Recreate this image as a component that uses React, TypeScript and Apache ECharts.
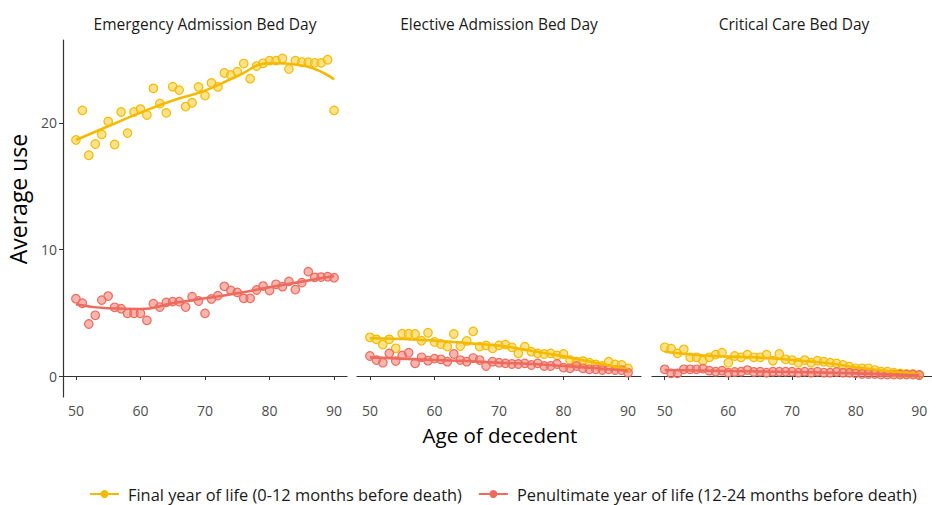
import React, { useEffect, useRef } from "react";
import * as echarts from "echarts";

const panelTitles = ["Emergency Admission Bed Day", "Elective Admission Bed Day", "Critical Care Bed Day"];
const seriesNames = [
  "Final year of life (0-12 months before death)",
  "Penultimate year of life (12-24 months before death)",
];
const ages = [50, 51, 52, 53, 54, 55, 56, 57, 58, 59, 60, 61, 62, 63, 64, 65, 66, 67, 68, 69, 70,
  71, 72, 73, 74, 75, 76, 77, 78, 79, 80, 81, 82, 83, 84, 85, 86, 87, 88, 89, 90];
const xTicks = [50, 60, 70, 80, 90];
const yTicks = [0, 10, 20];

// Emergency admission bed days
const emergFinal = [18.66, 21.0, 17.45, 18.34, 19.1, 20.13, 18.3, 20.87, 19.2, 20.87, 21.1, 20.63, 22.74, 21.53,
  20.8, 22.87, 22.6, 21.3, 21.6, 22.85, 22.16, 23.16, 22.85, 23.95, 23.8, 24.06, 24.7, 23.5, 24.5, 24.72, 24.93,
  24.93, 25.1, 24.27, 24.93, 24.8, 24.8, 24.75, 24.75, 25.0, 21.0];
const emergPenult = [6.11, 5.75, 4.11, 4.8, 6.0, 6.32, 5.43, 5.32, 4.95, 4.95, 4.95, 4.4, 5.72, 5.45, 5.82, 5.88,
  5.88, 5.45, 6.27, 5.93, 4.95, 6.09, 6.35, 7.09, 6.77, 6.61, 6.14, 6.14, 6.8, 7.11, 6.75, 7.25, 7.06, 7.48, 6.83,
  7.38, 8.25, 7.8, 7.82, 7.85, 7.77];
// Elective admission bed days
const electFinal = [3.06, 2.9, 2.48, 2.9, 2.19, 3.34, 3.34, 3.32, 2.79, 3.42, 2.69, 2.53, 2.32, 3.32, 2.37, 2.77,
  3.53, 2.32, 2.42, 2.19, 2.42, 2.48, 2.27, 1.79, 2.32, 1.92, 1.79, 1.74, 1.79, 1.63, 1.74, 1.26, 1.13, 1.18, 1.05,
  0.92, 0.79, 1.13, 0.92, 0.87, 0.6];
const electPenult = [1.58, 1.26, 1.05, 1.79, 1.18, 1.63, 1.84, 1.0, 1.48, 1.21, 1.37, 1.32, 1.13, 1.74, 1.26, 1.13,
  1.42, 1.26, 0.79, 1.13, 1.05, 1.0, 0.95, 0.95, 1.0, 0.87, 1.0, 0.79, 0.79, 0.95, 0.66, 0.61, 0.79, 0.61, 0.53,
  0.53, 0.47, 0.53, 0.47, 0.47, 0.26];
// Critical care bed days
const critFinal = [2.27, 2.16, 1.79, 2.11, 1.48, 1.48, 1.21, 1.48, 1.69, 1.84, 1.05, 1.58, 1.48, 1.69, 1.48, 1.48,
  1.69, 1.21, 1.74, 1.32, 1.26, 1.05, 1.26, 1.05, 1.21, 1.13, 1.05, 1.0, 0.87, 0.74, 0.61, 0.61, 0.61, 0.47, 0.34,
  0.34, 0.26, 0.21, 0.16, 0.16, 0.08];
const critPenult = [0.53, 0.21, 0.21, 0.53, 0.53, 0.53, 0.58, 0.42, 0.34, 0.42, 0.26, 0.32, 0.34, 0.47, 0.32, 0.34,
  0.26, 0.34, 0.34, 0.34, 0.34, 0.26, 0.34, 0.26, 0.34, 0.26, 0.26, 0.32, 0.26, 0.26, 0.21, 0.16, 0.16, 0.16, 0.11,
  0.11, 0.11, 0.11, 0.11, 0.11, 0.08];

// Smoothed trend lines
const smoothAges = [50, 55, 60, 65, 70, 75, 80, 85, 90];
const emergFinalFit = [18.66, 19.74, 20.82, 21.77, 22.56, 23.7, 24.72, 24.55, 23.45];
const emergPenultFit = [5.67, 5.35, 5.3, 5.75, 6.14, 6.54, 7.01, 7.46, 7.9];
const electFinalFit = [2.98, 2.93, 2.8, 2.6, 2.4, 2.0, 1.55, 1.05, 0.53];
const electPenultFit = [1.47, 1.37, 1.26, 1.18, 1.05, 0.95, 0.79, 0.61, 0.42];
const critFinalFit = [1.92, 1.66, 1.53, 1.45, 1.26, 1.05, 0.69, 0.4, 0.13];
const critPenultFit = [0.47, 0.44, 0.4, 0.36, 0.32, 0.27, 0.21, 0.13, 0.05];

const FONT = "Open Sans";
const YEL = "#F5BA00";
const RED = "#EE6A5C";

export default function App() {
  const ref = useRef<HTMLDivElement>(null);
  useEffect(() => {
    if (!ref.current) return;
    const chart = echarts.init(ref.current, undefined, { renderer: "svg" });
    const lefts = [63, 357, 652];
    const pts = [
      [emergFinal, emergPenult],
      [electFinal, electPenult],
      [critFinal, critPenult],
    ];
    const fits = [
      [emergFinalFit, emergPenultFit],
      [electFinalFit, electPenultFit],
      [critFinalFit, critPenultFit],
    ];
    const grids = lefts.map((l) => ({ left: l, top: 40, width: 284, height: 357 }));
    const xAxes = lefts.map((_, i) => ({
      type: "value",
      gridIndex: i,
      min: 48,
      max: 92,
      splitLine: { show: false },
      axisLine: { show: true, lineStyle: { color: "#333333", width: 1.2 } },
      axisTick: { show: true, length: 4, customValues: xTicks, lineStyle: { color: "#333333" } },
      axisLabel: { customValues: xTicks, color: "#4D4D4D", fontSize: 14, fontFamily: FONT, margin: 6 },
    }));
    const yAxes = lefts.map((_, i) => ({
      type: "value",
      gridIndex: i,
      min: -1.66,
      max: 26.56,
      splitLine: { show: false },
      axisLine: { show: i === 0, onZero: false, lineStyle: { color: "#333333", width: 1.2 } },
      axisTick: { show: i === 0, length: 4, customValues: yTicks, lineStyle: { color: "#333333" } },
      axisLabel: { show: i === 0, customValues: yTicks, color: "#4D4D4D", fontSize: 14, fontFamily: FONT, margin: 6 },
    }));
    const series: any[] = [];
    const colors = [YEL, RED];
    const fills = ["rgba(255,206,60,0.6)", "rgba(240,120,110,0.55)"];
    for (let p = 0; p < 3; p++) {
      for (let s = 0; s < 2; s++) {
        series.push({
          type: "line",
          name: seriesNames[s],
          xAxisIndex: p,
          yAxisIndex: p,
          smooth: 0.5,
          symbol: "circle",
          symbolSize: 8,
          showSymbol: false,
          lineStyle: { color: colors[s], width: 2.6 },
          itemStyle: { color: colors[s] },
          data: smoothAges.map((a, i) => [a, fits[p][s][i]]),
          z: 3,
        });
      }
    }
    for (let p = 0; p < 3; p++) {
      for (let s = 0; s < 2; s++) {
        series.push({
          type: "scatter",
          name: seriesNames[s],
          xAxisIndex: p,
          yAxisIndex: p,
          symbolSize: 8.5,
          itemStyle: { color: fills[s], borderColor: colors[s], borderWidth: 1.2, opacity: 1 },
          data: ages.map((a, i) => [a, pts[p][s][i]]),
          z: 2,
        });
      }
    }
    const centers = lefts.map((l) => l + 142);
    chart.setOption({
      animation: false,
      backgroundColor: "#ffffff",
      grid: grids,
      xAxis: xAxes,
      yAxis: yAxes,
      legend: {
        data: seriesNames,
        left: 84,
        top: 480,
        itemWidth: 29,
        itemHeight: 10,
        itemGap: 16,
        textStyle: { fontFamily: FONT, fontSize: 16.4, lineHeight: 18, color: "#1A1A1A", padding: [0, 0, 0, 4] },
        selectedMode: false,
      },
      series,
      graphic: [
        ...panelTitles.map((t, i) => ({
          type: "text",
          x: centers[i],
          y: 24,
          style: { text: t, fontFamily: FONT, fontSize: 15.5, fill: "#1A1A1A", align: "center", verticalAlign: "middle" },
        })),
        {
          type: "text",
          x: 500,
          y: 435,
          style: { text: "Age of decedent", fontFamily: FONT, fontSize: 20.5, fill: "#000000", align: "center", verticalAlign: "middle" },
        },
        {
          type: "text",
          x: 18,
          y: 199,
          rotation: Math.PI / 2,
          style: { text: "Average use", fontFamily: FONT, fontSize: 23, fill: "#000000", align: "center", verticalAlign: "middle" },
        },
      ],
    });
    return () => chart.dispose();
  }, []);
  return <div ref={ref} style={{ position: "absolute", left: 0, top: 0, width: 932, height: 505 }} />;
}
